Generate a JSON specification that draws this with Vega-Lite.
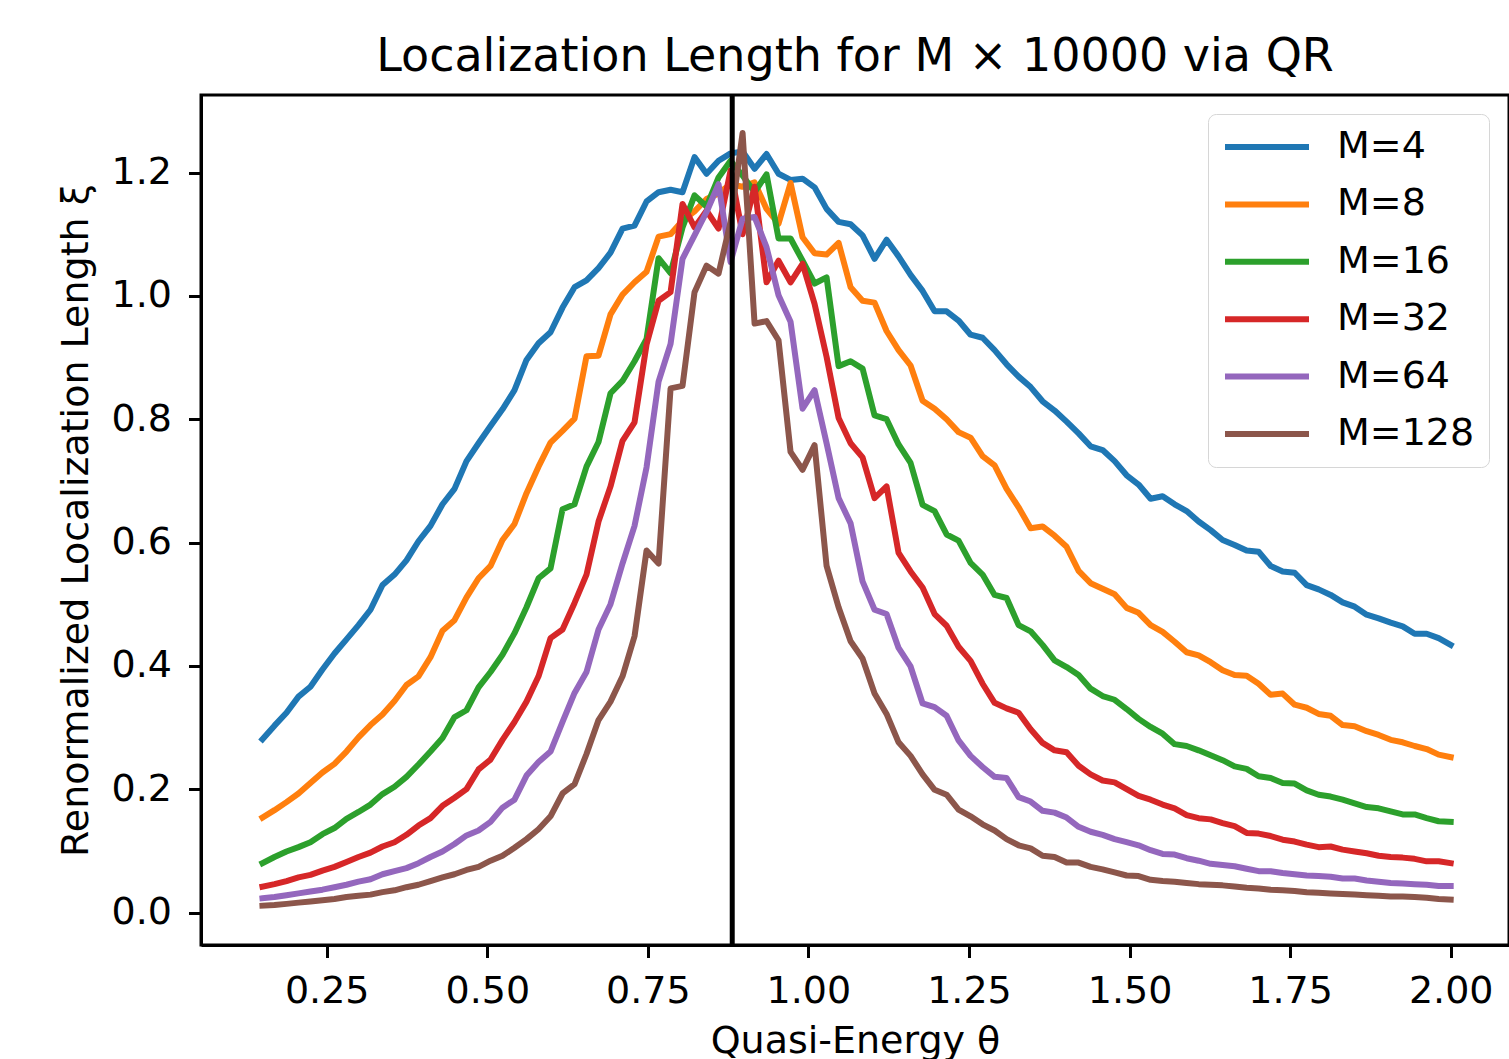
{
  "$schema": "https://vega.github.io/schema/vega-lite/v6.json",
  "autosize": {"type": "none"},
  "padding": {"left": 201, "top": 95, "right": 0, "bottom": 114},
  "width": 1308,
  "height": 850,
  "background": "white",
  "config": {
    "font": "DejaVu Sans",
    "view": {"stroke": "black", "strokeWidth": 3},
    "axis": {
      "grid": false,
      "domainColor": "black",
      "domainWidth": 3,
      "tickColor": "black",
      "tickWidth": 3,
      "tickSize": 12.5,
      "labelColor": "black",
      "labelFont": "DejaVu Sans",
      "labelFontSize": 38,
      "titleFont": "DejaVu Sans",
      "titleFontSize": 38,
      "titleFontWeight": "normal",
      "titleColor": "black"
    }
  },
  "title": {
    "text": "Localization Length for M × 10000 via QR",
    "font": "DejaVu Sans",
    "fontSize": 46,
    "fontWeight": "normal",
    "color": "black",
    "anchor": "middle",
    "frame": "group",
    "baseline": "alphabetic",
    "offset": 23,
    "dy": 47
  },
  "datasets": {
    "loc": [
      {"x": 0.15, "M=4": 0.281, "M=8": 0.154, "M=16": 0.080, "M=32": 0.042, "M=64": 0.023, "M=128": 0.011},
      {"x": 0.1687, "M=4": 0.303, "M=8": 0.166, "M=16": 0.090, "M=32": 0.046, "M=64": 0.025, "M=128": 0.012},
      {"x": 0.1874, "M=4": 0.324, "M=8": 0.179, "M=16": 0.099, "M=32": 0.051, "M=64": 0.028, "M=128": 0.014},
      {"x": 0.2061, "M=4": 0.350, "M=8": 0.193, "M=16": 0.106, "M=32": 0.057, "M=64": 0.031, "M=128": 0.016},
      {"x": 0.2247, "M=4": 0.366, "M=8": 0.210, "M=16": 0.114, "M=32": 0.061, "M=64": 0.034, "M=128": 0.018},
      {"x": 0.2434, "M=4": 0.394, "M=8": 0.227, "M=16": 0.127, "M=32": 0.068, "M=64": 0.037, "M=128": 0.020},
      {"x": 0.2621, "M=4": 0.420, "M=8": 0.241, "M=16": 0.137, "M=32": 0.074, "M=64": 0.041, "M=128": 0.022},
      {"x": 0.2808, "M=4": 0.443, "M=8": 0.261, "M=16": 0.152, "M=32": 0.082, "M=64": 0.045, "M=128": 0.025},
      {"x": 0.2995, "M=4": 0.466, "M=8": 0.284, "M=16": 0.163, "M=32": 0.090, "M=64": 0.050, "M=128": 0.027},
      {"x": 0.3182, "M=4": 0.491, "M=8": 0.304, "M=16": 0.175, "M=32": 0.097, "M=64": 0.054, "M=128": 0.029},
      {"x": 0.3369, "M=4": 0.531, "M=8": 0.321, "M=16": 0.192, "M=32": 0.107, "M=64": 0.062, "M=128": 0.033},
      {"x": 0.3556, "M=4": 0.548, "M=8": 0.343, "M=16": 0.204, "M=32": 0.114, "M=64": 0.067, "M=128": 0.036},
      {"x": 0.3742, "M=4": 0.571, "M=8": 0.369, "M=16": 0.220, "M=32": 0.126, "M=64": 0.072, "M=128": 0.041},
      {"x": 0.3929, "M=4": 0.602, "M=8": 0.383, "M=16": 0.240, "M=32": 0.141, "M=64": 0.080, "M=128": 0.045},
      {"x": 0.4116, "M=4": 0.627, "M=8": 0.414, "M=16": 0.261, "M=32": 0.153, "M=64": 0.090, "M=128": 0.051},
      {"x": 0.4303, "M=4": 0.662, "M=8": 0.457, "M=16": 0.283, "M=32": 0.173, "M=64": 0.099, "M=128": 0.057},
      {"x": 0.4490, "M=4": 0.687, "M=8": 0.474, "M=16": 0.317, "M=32": 0.186, "M=64": 0.111, "M=128": 0.062},
      {"x": 0.4677, "M=4": 0.732, "M=8": 0.511, "M=16": 0.328, "M=32": 0.200, "M=64": 0.125, "M=128": 0.069},
      {"x": 0.4864, "M=4": 0.761, "M=8": 0.542, "M=16": 0.365, "M=32": 0.232, "M=64": 0.133, "M=128": 0.074},
      {"x": 0.5051, "M=4": 0.789, "M=8": 0.562, "M=16": 0.390, "M=32": 0.248, "M=64": 0.147, "M=128": 0.084},
      {"x": 0.5237, "M=4": 0.816, "M=8": 0.604, "M=16": 0.418, "M=32": 0.280, "M=64": 0.170, "M=128": 0.092},
      {"x": 0.5424, "M=4": 0.847, "M=8": 0.630, "M=16": 0.453, "M=32": 0.309, "M=64": 0.183, "M=128": 0.105},
      {"x": 0.5611, "M=4": 0.896, "M=8": 0.680, "M=16": 0.495, "M=32": 0.342, "M=64": 0.222, "M=128": 0.119},
      {"x": 0.5798, "M=4": 0.923, "M=8": 0.723, "M=16": 0.542, "M=32": 0.383, "M=64": 0.244, "M=128": 0.135},
      {"x": 0.5985, "M=4": 0.941, "M=8": 0.762, "M=16": 0.558, "M=32": 0.445, "M=64": 0.261, "M=128": 0.156},
      {"x": 0.6172, "M=4": 0.981, "M=8": 0.781, "M=16": 0.654, "M=32": 0.459, "M=64": 0.309, "M=128": 0.193},
      {"x": 0.6359, "M=4": 1.014, "M=8": 0.801, "M=16": 0.662, "M=32": 0.502, "M=64": 0.356, "M=128": 0.208},
      {"x": 0.6545, "M=4": 1.025, "M=8": 0.902, "M=16": 0.723, "M=32": 0.548, "M=64": 0.390, "M=128": 0.257},
      {"x": 0.6732, "M=4": 1.045, "M=8": 0.903, "M=16": 0.763, "M=32": 0.634, "M=64": 0.459, "M=128": 0.312},
      {"x": 0.6919, "M=4": 1.070, "M=8": 0.970, "M=16": 0.842, "M=32": 0.691, "M=64": 0.500, "M=128": 0.342},
      {"x": 0.7106, "M=4": 1.109, "M=8": 1.002, "M=16": 0.862, "M=32": 0.765, "M=64": 0.566, "M=128": 0.383},
      {"x": 0.7293, "M=4": 1.114, "M=8": 1.022, "M=16": 0.894, "M=32": 0.795, "M=64": 0.627, "M=128": 0.448},
      {"x": 0.7480, "M=4": 1.153, "M=8": 1.039, "M=16": 0.930, "M=32": 0.921, "M=64": 0.722, "M=128": 0.587},
      {"x": 0.7667, "M=4": 1.168, "M=8": 1.096, "M=16": 1.061, "M=32": 0.992, "M=64": 0.861, "M=128": 0.566},
      {"x": 0.7854, "M=4": 1.172, "M=8": 1.100, "M=16": 1.037, "M=32": 1.006, "M=64": 0.922, "M=128": 0.850},
      {"x": 0.8040, "M=4": 1.168, "M=8": 1.122, "M=16": 1.111, "M=32": 1.149, "M=64": 1.060, "M=128": 0.854},
      {"x": 0.8227, "M=4": 1.225, "M=8": 1.137, "M=16": 1.163, "M=32": 1.111, "M=64": 1.098, "M=128": 1.006},
      {"x": 0.8414, "M=4": 1.198, "M=8": 1.157, "M=16": 1.145, "M=32": 1.138, "M=64": 1.136, "M=128": 1.049},
      {"x": 0.8601, "M=4": 1.219, "M=8": 1.166, "M=16": 1.192, "M=32": 1.109, "M=64": 1.181, "M=128": 1.036},
      {"x": 0.8788, "M=4": 1.231, "M=8": 1.181, "M=16": 1.219, "M=32": 1.203, "M=64": 1.055, "M=128": 1.120},
      {"x": 0.8975, "M=4": 1.234, "M=8": 1.177, "M=16": 1.195, "M=32": 1.100, "M=64": 1.125, "M=128": 1.264},
      {"x": 0.9162, "M=4": 1.206, "M=8": 1.184, "M=16": 1.168, "M=32": 1.177, "M=64": 1.128, "M=128": 0.955},
      {"x": 0.9348, "M=4": 1.230, "M=8": 1.141, "M=16": 1.197, "M=32": 1.022, "M=64": 1.079, "M=128": 0.959},
      {"x": 0.9535, "M=4": 1.198, "M=8": 1.117, "M=16": 1.093, "M=32": 1.057, "M=64": 1.001, "M=128": 0.928},
      {"x": 0.9722, "M=4": 1.188, "M=8": 1.183, "M=16": 1.093, "M=32": 1.022, "M=64": 0.958, "M=128": 0.747},
      {"x": 0.9909, "M=4": 1.190, "M=8": 1.095, "M=16": 1.057, "M=32": 1.052, "M=64": 0.817, "M=128": 0.718},
      {"x": 1.0096, "M=4": 1.176, "M=8": 1.069, "M=16": 1.020, "M=32": 0.987, "M=64": 0.847, "M=128": 0.758},
      {"x": 1.0283, "M=4": 1.141, "M=8": 1.067, "M=16": 1.030, "M=32": 0.901, "M=64": 0.761, "M=128": 0.562},
      {"x": 1.0470, "M=4": 1.120, "M=8": 1.086, "M=16": 0.886, "M=32": 0.802, "M=64": 0.672, "M=128": 0.495},
      {"x": 1.0657, "M=4": 1.116, "M=8": 1.014, "M=16": 0.894, "M=32": 0.761, "M=64": 0.631, "M=128": 0.440},
      {"x": 1.0843, "M=4": 1.098, "M=8": 0.992, "M=16": 0.882, "M=32": 0.738, "M=64": 0.537, "M=128": 0.412},
      {"x": 1.1030, "M=4": 1.060, "M=8": 0.989, "M=16": 0.806, "M=32": 0.672, "M=64": 0.491, "M=128": 0.355},
      {"x": 1.1217, "M=4": 1.091, "M=8": 0.943, "M=16": 0.800, "M=32": 0.691, "M=64": 0.484, "M=128": 0.322},
      {"x": 1.1404, "M=4": 1.064, "M=8": 0.912, "M=16": 0.759, "M=32": 0.583, "M=64": 0.429, "M=128": 0.276},
      {"x": 1.1591, "M=4": 1.034, "M=8": 0.887, "M=16": 0.729, "M=32": 0.553, "M=64": 0.399, "M=128": 0.254},
      {"x": 1.1778, "M=4": 1.008, "M=8": 0.830, "M=16": 0.661, "M=32": 0.527, "M=64": 0.339, "M=128": 0.224},
      {"x": 1.1965, "M=4": 0.975, "M=8": 0.817, "M=16": 0.651, "M=32": 0.484, "M=64": 0.333, "M=128": 0.199},
      {"x": 1.2152, "M=4": 0.975, "M=8": 0.800, "M=16": 0.613, "M=32": 0.465, "M=64": 0.319, "M=128": 0.191},
      {"x": 1.2338, "M=4": 0.960, "M=8": 0.779, "M=16": 0.603, "M=32": 0.431, "M=64": 0.279, "M=128": 0.167},
      {"x": 1.2525, "M=4": 0.937, "M=8": 0.770, "M=16": 0.567, "M=32": 0.408, "M=64": 0.254, "M=128": 0.156},
      {"x": 1.2712, "M=4": 0.932, "M=8": 0.740, "M=16": 0.548, "M=32": 0.371, "M=64": 0.236, "M=128": 0.143},
      {"x": 1.2899, "M=4": 0.912, "M=8": 0.725, "M=16": 0.515, "M=32": 0.340, "M=64": 0.220, "M=128": 0.133},
      {"x": 1.3086, "M=4": 0.889, "M=8": 0.687, "M=16": 0.510, "M=32": 0.331, "M=64": 0.218, "M=128": 0.119},
      {"x": 1.3273, "M=4": 0.869, "M=8": 0.657, "M=16": 0.466, "M=32": 0.324, "M=64": 0.187, "M=128": 0.109},
      {"x": 1.3460, "M=4": 0.852, "M=8": 0.623, "M=16": 0.456, "M=32": 0.297, "M=64": 0.180, "M=128": 0.104},
      {"x": 1.3646, "M=4": 0.829, "M=8": 0.626, "M=16": 0.434, "M=32": 0.275, "M=64": 0.165, "M=128": 0.092},
      {"x": 1.3833, "M=4": 0.814, "M=8": 0.611, "M=16": 0.409, "M=32": 0.263, "M=64": 0.162, "M=128": 0.090},
      {"x": 1.4020, "M=4": 0.796, "M=8": 0.593, "M=16": 0.398, "M=32": 0.260, "M=64": 0.154, "M=128": 0.081},
      {"x": 1.4207, "M=4": 0.777, "M=8": 0.554, "M=16": 0.385, "M=32": 0.238, "M=64": 0.139, "M=128": 0.081},
      {"x": 1.4394, "M=4": 0.756, "M=8": 0.534, "M=16": 0.363, "M=32": 0.224, "M=64": 0.131, "M=128": 0.074},
      {"x": 1.4581, "M=4": 0.750, "M=8": 0.525, "M=16": 0.351, "M=32": 0.214, "M=64": 0.126, "M=128": 0.070},
      {"x": 1.4768, "M=4": 0.732, "M=8": 0.516, "M=16": 0.345, "M=32": 0.211, "M=64": 0.119, "M=128": 0.065},
      {"x": 1.4955, "M=4": 0.709, "M=8": 0.494, "M=16": 0.330, "M=32": 0.200, "M=64": 0.114, "M=128": 0.060},
      {"x": 1.5141, "M=4": 0.694, "M=8": 0.486, "M=16": 0.314, "M=32": 0.189, "M=64": 0.109, "M=128": 0.059},
      {"x": 1.5328, "M=4": 0.671, "M=8": 0.466, "M=16": 0.301, "M=32": 0.183, "M=64": 0.101, "M=128": 0.053},
      {"x": 1.5515, "M=4": 0.675, "M=8": 0.455, "M=16": 0.290, "M=32": 0.175, "M=64": 0.095, "M=128": 0.051},
      {"x": 1.5702, "M=4": 0.662, "M=8": 0.439, "M=16": 0.273, "M=32": 0.169, "M=64": 0.094, "M=128": 0.050},
      {"x": 1.5889, "M=4": 0.651, "M=8": 0.422, "M=16": 0.270, "M=32": 0.158, "M=64": 0.088, "M=128": 0.048},
      {"x": 1.6076, "M=4": 0.634, "M=8": 0.417, "M=16": 0.263, "M=32": 0.153, "M=64": 0.084, "M=128": 0.046},
      {"x": 1.6263, "M=4": 0.620, "M=8": 0.406, "M=16": 0.255, "M=32": 0.151, "M=64": 0.079, "M=128": 0.045},
      {"x": 1.6449, "M=4": 0.604, "M=8": 0.393, "M=16": 0.247, "M=32": 0.145, "M=64": 0.077, "M=128": 0.044},
      {"x": 1.6636, "M=4": 0.596, "M=8": 0.385, "M=16": 0.237, "M=32": 0.140, "M=64": 0.075, "M=128": 0.042},
      {"x": 1.6823, "M=4": 0.587, "M=8": 0.384, "M=16": 0.233, "M=32": 0.129, "M=64": 0.071, "M=128": 0.040},
      {"x": 1.7010, "M=4": 0.585, "M=8": 0.371, "M=16": 0.221, "M=32": 0.128, "M=64": 0.067, "M=128": 0.039},
      {"x": 1.7197, "M=4": 0.562, "M=8": 0.353, "M=16": 0.218, "M=32": 0.124, "M=64": 0.067, "M=128": 0.037},
      {"x": 1.7384, "M=4": 0.553, "M=8": 0.355, "M=16": 0.210, "M=32": 0.118, "M=64": 0.064, "M=128": 0.036},
      {"x": 1.7571, "M=4": 0.551, "M=8": 0.337, "M=16": 0.209, "M=32": 0.115, "M=64": 0.062, "M=128": 0.035},
      {"x": 1.7758, "M=4": 0.531, "M=8": 0.332, "M=16": 0.198, "M=32": 0.110, "M=64": 0.060, "M=128": 0.033},
      {"x": 1.7944, "M=4": 0.524, "M=8": 0.322, "M=16": 0.191, "M=32": 0.106, "M=64": 0.059, "M=128": 0.032},
      {"x": 1.8131, "M=4": 0.515, "M=8": 0.319, "M=16": 0.188, "M=32": 0.107, "M=64": 0.058, "M=128": 0.031},
      {"x": 1.8318, "M=4": 0.503, "M=8": 0.304, "M=16": 0.183, "M=32": 0.102, "M=64": 0.055, "M=128": 0.030},
      {"x": 1.8505, "M=4": 0.496, "M=8": 0.302, "M=16": 0.177, "M=32": 0.099, "M=64": 0.055, "M=128": 0.029},
      {"x": 1.8692, "M=4": 0.483, "M=8": 0.294, "M=16": 0.171, "M=32": 0.096, "M=64": 0.052, "M=128": 0.028},
      {"x": 1.8879, "M=4": 0.477, "M=8": 0.288, "M=16": 0.169, "M=32": 0.092, "M=64": 0.050, "M=128": 0.027},
      {"x": 1.9066, "M=4": 0.470, "M=8": 0.280, "M=16": 0.164, "M=32": 0.090, "M=64": 0.048, "M=128": 0.026},
      {"x": 1.9253, "M=4": 0.464, "M=8": 0.276, "M=16": 0.159, "M=32": 0.089, "M=64": 0.047, "M=128": 0.026},
      {"x": 1.9439, "M=4": 0.452, "M=8": 0.270, "M=16": 0.159, "M=32": 0.087, "M=64": 0.046, "M=128": 0.025},
      {"x": 1.9626, "M=4": 0.452, "M=8": 0.265, "M=16": 0.153, "M=32": 0.083, "M=64": 0.045, "M=128": 0.024},
      {"x": 1.9813, "M=4": 0.445, "M=8": 0.256, "M=16": 0.148, "M=32": 0.083, "M=64": 0.043, "M=128": 0.022},
      {"x": 2.0, "M=4": 0.434, "M=8": 0.252, "M=16": 0.147, "M=32": 0.080, "M=64": 0.043, "M=128": 0.021}
    ],
    "marker": [{"theta": 0.8814}]
  },
  "layer": [
    {
      "data": {"name": "loc"},
      "transform": [{"fold": ["M=4", "M=8", "M=16", "M=32", "M=64", "M=128"], "as": ["M", "xi"]}],
      "mark": {"type": "line", "strokeWidth": 6, "strokeJoin": "round", "strokeCap": "square"},
      "encoding": {
        "x": {
          "field": "x",
          "type": "quantitative",
          "scale": {"domain": [0.0543, 2.0908], "nice": false, "zero": false},
          "axis": {
            "title": "Quasi-Energy θ",
            "values": [0.25, 0.5, 0.75, 1.0, 1.25, 1.5, 1.75, 2.0],
            "format": ".2f",
            "labelPadding": 15,
            "titlePadding": 12
          }
        },
        "y": {
          "field": "xi",
          "type": "quantitative",
          "scale": {"domain": [-0.0527, 1.3257], "nice": false, "zero": false},
          "axis": {
            "title": "Renormalized Localization Length ξ",
            "values": [0, 0.2, 0.4, 0.6, 0.8, 1.0, 1.2],
            "format": ".1f",
            "labelPadding": 17,
            "titlePadding": 16
          }
        },
        "color": {
          "field": "M",
          "type": "nominal",
          "scale": {
            "domain": ["M=4", "M=8", "M=16", "M=32", "M=64", "M=128"],
            "range": ["#1f77b4", "#ff7f0e", "#2ca02c", "#d62728", "#9467bd", "#8c564b"]
          },
          "legend": {
            "title": null,
            "orient": "none",
            "legendX": 1007,
            "legendY": 19,
            "symbolType": "stroke",
            "symbolSize": 7056,
            "symbolStrokeWidth": 6,
            "clipHeight": 38,
            "labelFont": "DejaVu Sans",
            "labelFontSize": 38,
            "labelColor": "black",
            "labelOffset": 25,
            "rowPadding": 19.4,
            "padding": 14,
            "strokeColor": "#d6d6d6",
            "cornerRadius": 8,
            "fillColor": "white",
            "encoding": {
              "legend": {"update": {"strokeWidth": {"value": 3}}}
            }
          }
        }
      }
    },
    {
      "data": {"name": "marker"},
      "mark": {"type": "rule", "color": "black", "strokeWidth": 5},
      "encoding": {"x": {"field": "theta", "type": "quantitative"}}
    }
  ]
}
